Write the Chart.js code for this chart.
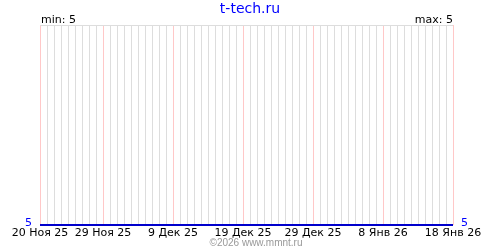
<!DOCTYPE html>
<html>
<head>
<meta charset="utf-8">
<script src="https://cdn.jsdelivr.net/npm/chart.js@4"></script>
<style>
  body { margin: 0; background: #fff; }
  canvas { display: block; }
</style>
</head>
<body>
<canvas id="chart" width="500" height="250"></canvas>
<script>
var siteName = "t-tech.ru";
var copyright = "\u00a92026 www.mmnt.ru";

// one point per day, 20 Ноя 25 .. 18 Янв 26
var days = [
  0, 1, 2, 3, 4, 5, 6, 7, 8, 9,
  10, 11, 12, 13, 14, 15, 16, 17, 18, 19,
  20, 21, 22, 23, 24, 25, 26, 27, 28, 29,
  30, 31, 32, 33, 34, 35, 36, 37, 38, 39,
  40, 41, 42, 43, 44, 45, 46, 47, 48, 49,
  50, 51, 52, 53, 54, 55, 56, 57, 58, 59,
];
var values = [
  5, 5, 5, 5, 5, 5, 5, 5, 5, 5,
  5, 5, 5, 5, 5, 5, 5, 5, 5, 5,
  5, 5, 5, 5, 5, 5, 5, 5, 5, 5,
  5, 5, 5, 5, 5, 5, 5, 5, 5, 5,
  5, 5, 5, 5, 5, 5, 5, 5, 5, 5,
  5, 5, 5, 5, 5, 5, 5, 5, 5, 5,
];
var tickDays = [0, 9, 19, 29, 39, 49, 59];
var tickLabels = [
  "20 Ноя 25",
  "29 Ноя 25",
  "9 Дек 25",
  "19 Дек 25",
  "29 Дек 25",
  "8 Янв 26",
  "18 Янв 26",
];
var yMin = 5;
var yMax = 5;

var points = days.map(function (d, i) {
  return { x: d, y: values[i] };
});

var font = "'DejaVu Sans', Verdana, sans-serif";

var yAxis = function (pos) {
  return {
    type: "linear",
    position: pos,
    min: 5,
    max: 6,
    afterBuildTicks: function (scale) {
      scale.ticks = [{ value: 5 }, { value: 6 }];
    },
    afterFit: function (scale) {
      scale.width = pos === "left" ? 40 : 47;
    },
    border: { display: false },
    grid: {
      display: pos === "left",
      drawTicks: false,
      lineWidth: 1,
      color: function (ctx) {
        return ctx.tick && ctx.tick.value === 6 ? "#dddddd" : "rgba(0,0,0,0)";
      },
    },
    ticks: {
      padding: 8,
      labelOffset: -2,
      color: "#0000ff",
      font: { family: font, size: 11 },
      callback: function (v) {
        return v === 5 ? "5" : "";
      },
    },
  };
};

var textPlugin = {
  id: "texts",
  afterDraw: function (chart) {
    var c = chart.ctx;
    var area = chart.chartArea;
    c.save();
    c.textBaseline = "alphabetic";
    c.fillStyle = "#0000ff";
    c.font = "14px " + font;
    c.textAlign = "center";
    c.fillText(siteName, 250, 13);
    c.fillStyle = "#000000";
    c.font = "11px " + font;
    c.textAlign = "left";
    c.fillText("min: " + yMin, area.left + 1, 23);
    c.textAlign = "right";
    c.fillText("max: " + yMax, area.right, 23);
    c.fillStyle = "#999999";
    c.font = "10px 'Liberation Sans', Arial, sans-serif";
    c.textAlign = "center";
    c.fillText(copyright, 256, 246);
    c.restore();
  },
};

new Chart(document.getElementById("chart"), {
  type: "line",
  data: {
    datasets: [
      {
        data: points,
        borderColor: "#0000cc",
        borderWidth: 2,
        pointRadius: 0,
        fill: false,
        tension: 0,
        clip: false,
        yAxisID: "y",
      },
    ],
  },
  options: {
    responsive: false,
    animation: false,
    layout: { padding: { top: 25, left: 0, right: 0, bottom: 0 } },
    plugins: {
      legend: { display: false },
      tooltip: { enabled: false },
    },
    scales: {
      x: {
        type: "linear",
        min: 0,
        max: 59,
        afterBuildTicks: function (scale) {
          scale.ticks = days.map(function (d) {
            return { value: d };
          });
        },
        afterFit: function (scale) {
          scale.height = 25;
        },
        border: { display: false },
        grid: {
          drawTicks: false,
          lineWidth: 1,
          color: function (ctx) {
            if (!ctx.tick) return "#dddddd";
            return tickDays.indexOf(ctx.tick.value) >= 0 ? "#ffc8c8" : "#dddddd";
          },
        },
        ticks: {
          autoSkip: false,
          maxRotation: 0,
          padding: 2,
          color: "#000000",
          font: { family: font, size: 11 },
          callback: function (v) {
            var i = tickDays.indexOf(v);
            return i >= 0 ? tickLabels[i] : "";
          },
        },
      },
      y: yAxis("left"),
      y2: yAxis("right"),
    },
  },
  plugins: [textPlugin],
});
</script>
</body>
</html>
